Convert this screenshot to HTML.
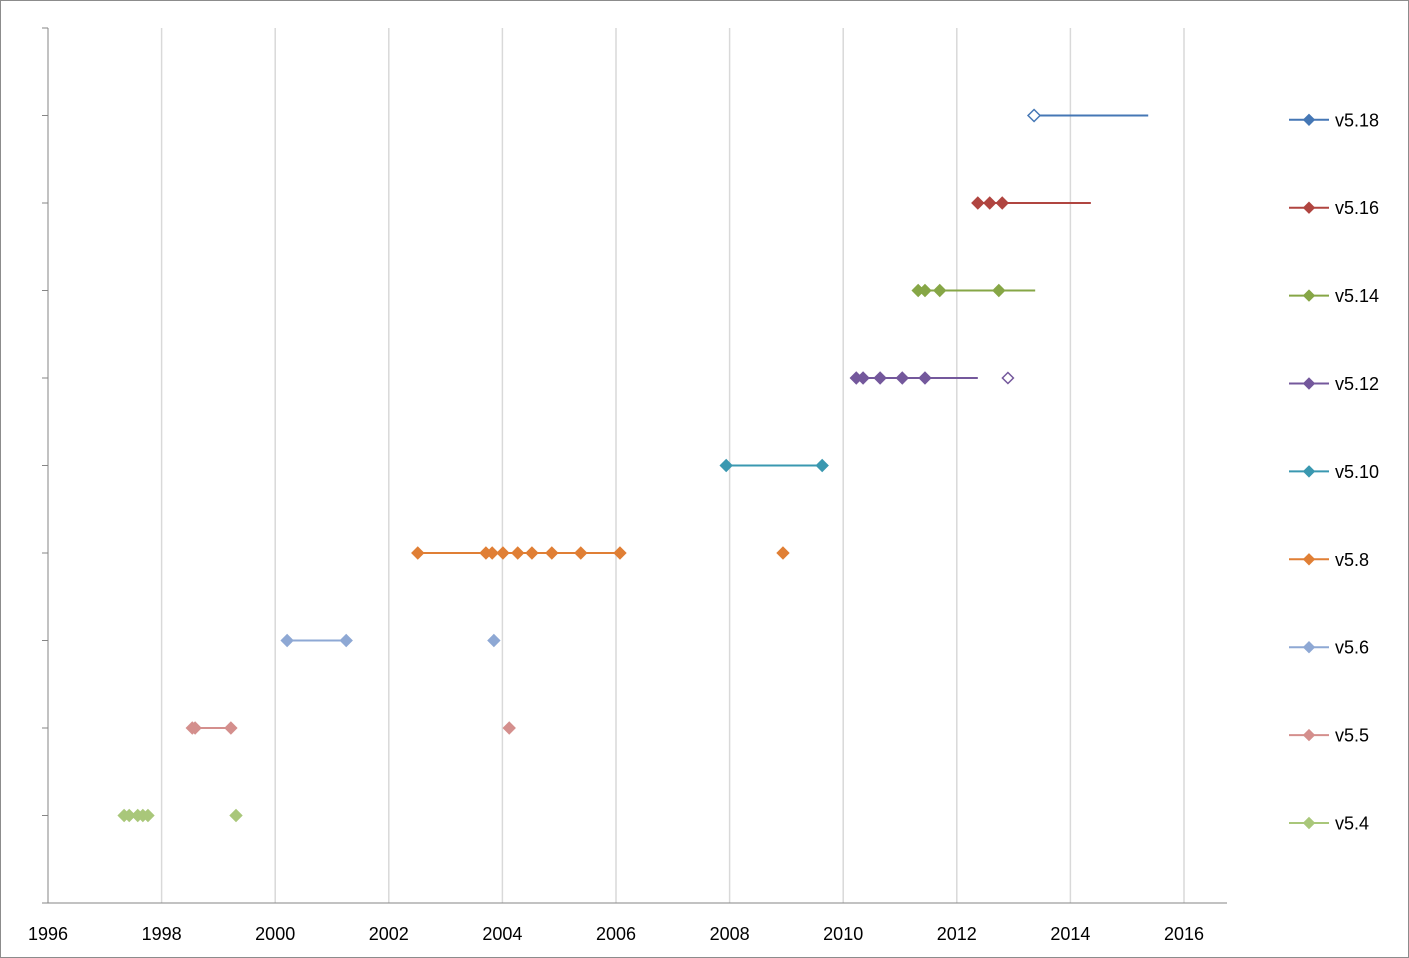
<!DOCTYPE html>
<html><head><meta charset="utf-8"><style>
html,body{margin:0;padding:0;background:#fff;}
svg{display:block;font-family:"Liberation Sans",sans-serif;}
</style></head><body>
<svg id="chart" width="1409" height="958" viewBox="0 0 1409 958" xmlns="http://www.w3.org/2000/svg">
<rect x="0.5" y="0.5" width="1408" height="957" fill="#fff" stroke="#8c8c8c"/>
<g id="grid"></g>
<g id="axes"></g>
<g id="series"></g>
<g id="legend"></g>
</svg>
<script>
const seriesNames = ["v5.4","v5.5","v5.6","v5.8","v5.10","v5.12","v5.14","v5.16","v5.18"];
const seriesColors = ["#a9c77a","#d48f8d","#8ea8d4","#e07f35","#3a98b0","#74589c","#86a646","#b04540","#4577b5"];
const seriesLevels = [1,2,3,4,5,6,7,8,9];
// connected points per series
const connected = [
  [1997.34,1997.43,1997.58,1997.67,1997.76],
  [1998.54,1998.59,1999.22],
  [2000.21,2001.25],
  [2002.51,2003.71,2003.82,2004.01,2004.27,2004.52,2004.87,2005.38,2006.07],
  [2007.94,2009.63],
  [2010.23,2010.35,2010.65,2011.04,2011.44],
  [2011.32,2011.44,2011.70,2012.74],
  [2012.37,2012.58,2012.80],
  [2013.36]
];
// line extension (no marker) per series
const lineEnds = [null,null,null,null,null,2012.37,2013.38,2014.36,2015.37];
// separate, unconnected points
const extraPts = [[1999.31],[2004.12],[2003.85],[2008.94],[],[2012.90],[],[],[]];
const extraHollow = [false,false,false,false,false,true,false,false,false];
const firstHollow = [false,false,false,false,false,false,false,false,true];
const xTicks = [1996,1998,2000,2002,2004,2006,2008,2010,2012,2014,2016];

const X0=48, PX_PER_YEAR=56.8, YB=903, PX_PER_LEVEL=87.5;
const xs = v => X0 + (v-1996)*PX_PER_YEAR;
const ys = v => YB - v*PX_PER_LEVEL;
const NS="http://www.w3.org/2000/svg";
function mk(tag, attrs, parent){const e=document.createElementNS(NS,tag);for(const k in attrs)e.setAttribute(k,attrs[k]);parent.appendChild(e);return e;}
const grid=document.getElementById('grid'), axes=document.getElementById('axes'), ser=document.getElementById('series'), leg=document.getElementById('legend');

xTicks.forEach(t=>{
  if(t>1996){const g=mk('line',{x1:xs(t),x2:xs(t),y1:28,y2:YB,stroke:'#d9d9d9','stroke-width':1.5},grid);
  
  }
  const lb=mk('text',{x:xs(t),y:940,'text-anchor':'middle','font-size':18,fill:'#000'},axes);
  lb.textContent=t;
  
  
});
const xa=mk('line',{x1:48,x2:1227,y1:YB,y2:YB,stroke:'#868686'},axes);


const ya=mk('line',{x1:48,x2:48,y1:28,y2:YB,stroke:'#868686'},axes);


for(let i=0;i<=10;i++){const t=mk('line',{x1:42,x2:48,y1:ys(i),y2:ys(i),stroke:'#868686'},axes);
  
  }

function diamond(cx,cy,r,color,hollow,parent){
  return mk('path',{d:`M${cx} ${cy-r}L${cx+r} ${cy}L${cx} ${cy+r}L${cx-r} ${cy}Z`,fill:hollow?'#fff':color,stroke:color,'stroke-width':hollow?1.5:1},parent);
}
seriesNames.forEach((name,i)=>{
  const g=mk('g',{},ser);
  
  
  const y=ys(seriesLevels[i]), c=seriesColors[i];
  const pts=connected[i].slice();
  const lineX=pts.slice(); if(lineEnds[i]!==null) lineX.push(lineEnds[i]);
  if(lineX.length>1){const l=mk('line',{x1:xs(Math.min(...lineX)),x2:xs(Math.max(...lineX)),y1:y,y2:y,stroke:c,'stroke-width':2},g);
    
    }
  pts.forEach((v,j)=>{const d=diamond(xs(v),y,6,c,j===0&&firstHollow[i],g);
    
    });
  extraPts[i].forEach(v=>{const d=diamond(xs(v),y,extraHollow[i]?5.5:6,c,extraHollow[i],g);
    
    });
  // legend
  const lg=mk('g',{},leg);
  
  
  const ly=823 - (seriesLevels[i]-1)*87.9;
  mk('line',{x1:1289,x2:1329,y1:ly,y2:ly,stroke:c,'stroke-width':2},lg);
  diamond(1309,ly,5.5,c,false,lg);
  const t=mk('text',{x:1335,y:ly+6.5,'font-size':18,fill:'#000'},lg);
  t.textContent=name;
});
</script>
</body></html>
